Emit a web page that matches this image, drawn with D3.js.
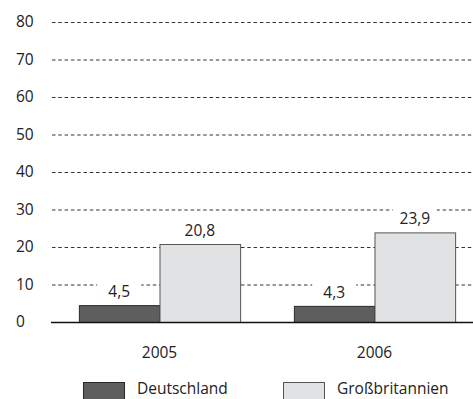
<!DOCTYPE html>
<html>
<head>
<meta charset="utf-8">
<script src="https://cdn.jsdelivr.net/npm/d3@7"></script>
<style>
  body { margin: 0; background: #fff; }
  text { font-family: "Open Sans", sans-serif; fill: #222; }
</style>
</head>
<body>
<div id="chart"></div>
<script>
var years = ["2005", "2006"];
var countries = ["Deutschland", "Großbritannien"];
var deutschland = [4.5, 4.3];
var grossbritannien = [20.8, 23.9];
var yTicks = [0, 10, 20, 30, 40, 50, 60, 70, 80];

var width = 473, height = 399;
var fills = { "Deutschland": "#5e5e5e", "Großbritannien": "#e1e2e4" };
var strokes = { "Deutschland": "#2a2a2a", "Großbritannien": "#555" };

var svg = d3.select('#chart').append('svg')
  .attr('width', width)
  .attr('height', height);

var y = d3.scaleLinear().domain([0, 80]).range([322, 22]);
var x0 = d3.scaleBand().domain(years).range([52, 482])
  .paddingInner(0.25).paddingOuter(0.125);
var x1 = d3.scaleBand().domain(countries).range([0, x0.bandwidth()]);

// gridlines
svg.selectAll('line.grid').data(yTicks.filter(function (d) { return d > 0; }))
  .enter().append('line')
  .attr('class', 'grid')
  .attr('x1', 52).attr('x2', width)
  .attr('y1', function (d) { return y(d) + 0.5; })
  .attr('y2', function (d) { return y(d) + 0.5; })
  .attr('stroke', '#333')
  .attr('stroke-width', 1)
  .attr('stroke-dasharray', '3.5,2.8');

// y labels (left aligned)
svg.selectAll('text.ylab').data(yTicks)
  .enter().append('text')
  .attr('class', 'ylab')
  .attr('x', 16)
  .attr('y', function (d) { return y(d); })
  .attr('dy', '0.35em')
  .style('font-size', '15.5px')
  .text(function (d) { return d; });

var rows = [];
years.forEach(function (yr, i) {
  rows.push({ year: yr, c: "Deutschland", v: deutschland[i] });
  rows.push({ year: yr, c: "Großbritannien", v: grossbritannien[i] });
});

var fmt = function (v) { return d3.format('.1f')(v).replace('.', ','); };

// value labels with white backing
var lab = svg.selectAll('g.vlab').data(rows).enter().append('g')
  .attr('class', 'vlab')
  .attr('transform', function (d) {
    return 'translate(' + (x0(d.year) + x1(d.c) + x1.bandwidth() / 2) + ',' + (y(d.v) - 8) + ')';
  });
lab.append('rect')
  .attr('x', -22).attr('y', -17).attr('width', 44).attr('height', 21)
  .attr('fill', '#fff');
lab.append('text')
  .attr('text-anchor', 'middle')
  .style('font-size', '15.5px')
  .text(function (d) { return fmt(d.v); });

// bars
svg.selectAll('rect.bar').data(rows)
  .enter().append('rect')
  .attr('class', 'bar')
  .attr('x', function (d) { return x0(d.year) + x1(d.c) + 0.5; })
  .attr('y', function (d) { return y(d.v) + 0.5; })
  .attr('width', x1.bandwidth())
  .attr('height', function (d) { return y(0) - y(d.v); })
  .attr('fill', function (d) { return fills[d.c]; })
  .attr('stroke', function (d) { return strokes[d.c]; })
  .attr('stroke-width', 1);

// zero axis
svg.append('line')
  .attr('x1', 51).attr('x2', width)
  .attr('y1', y(0) + 0.5).attr('y2', y(0) + 0.5)
  .attr('stroke', '#111')
  .attr('stroke-width', 1.5);

// year labels
svg.selectAll('text.xlab').data(years)
  .enter().append('text')
  .attr('class', 'xlab')
  .attr('x', function (d) { return x0(d) + x0.bandwidth() / 2; })
  .attr('y', 358)
  .attr('text-anchor', 'middle')
  .style('font-size', '15.5px')
  .text(function (d) { return d; });

// legend
var legX = [83, 283];
var leg = svg.selectAll('g.leg').data(countries).enter().append('g')
  .attr('class', 'leg')
  .attr('transform', function (d, i) { return 'translate(' + legX[i] + ',382)'; });
leg.append('rect')
  .attr('x', 0.5).attr('y', 0.5).attr('width', 41).attr('height', 18)
  .attr('fill', function (d) { return fills[d]; })
  .attr('stroke', function (d) { return strokes[d]; });
leg.append('text')
  .attr('x', 54).attr('y', 12)
  .style('font-size', '15.5px')
  .text(function (d) { return d; });
</script>
</body>
</html>
